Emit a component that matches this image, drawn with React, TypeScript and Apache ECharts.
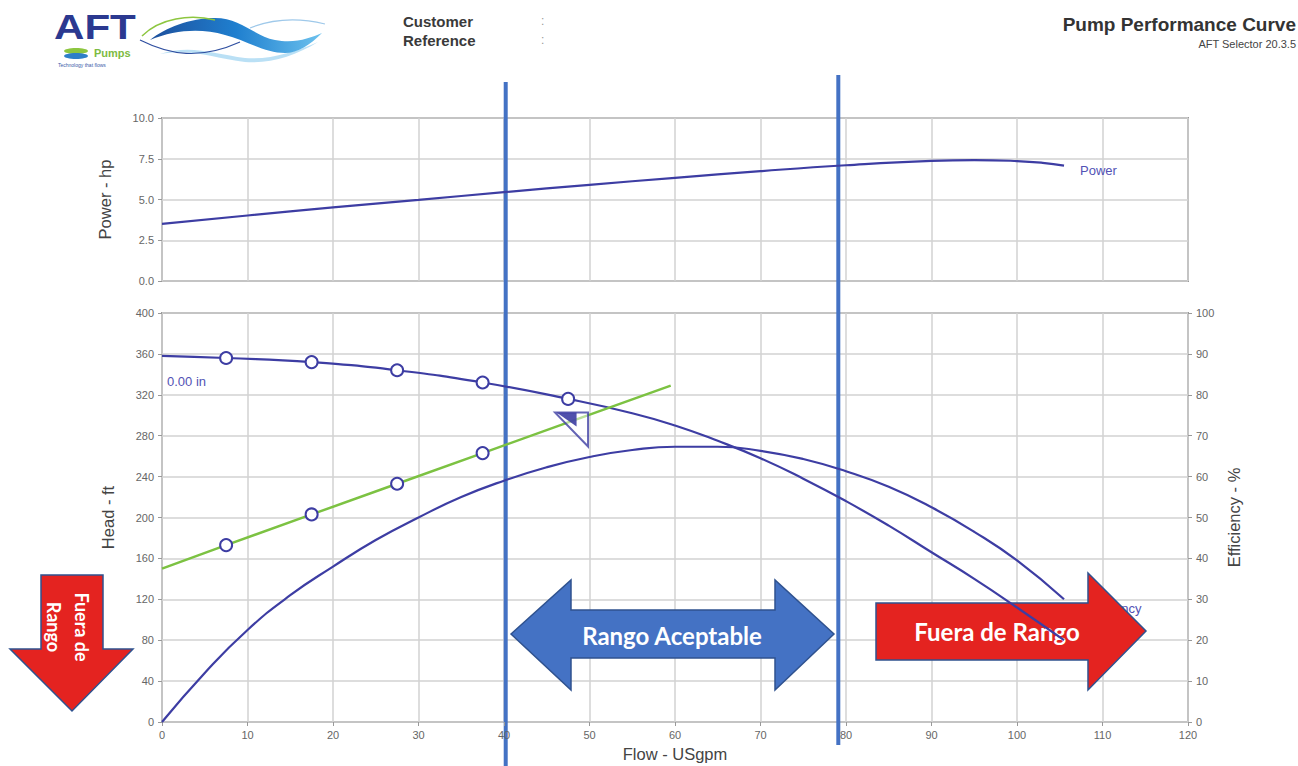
import React, { useEffect, useRef } from "react";
import * as echarts from "echarts";

// ---- data ----
const flowTicks = [0, 10, 20, 30, 40, 50, 60, 70, 80, 90, 100, 110, 120];

const powerFlow = [0, 10, 20, 30, 40, 50, 60, 70, 80, 90, 95, 100, 103, 105.5];
const powerHp = [3.5, 4.02, 4.52, 4.98, 5.45, 5.9, 6.33, 6.74, 7.1, 7.37, 7.42, 7.36, 7.25, 7.08];

const headFlow = [0, 7.5, 17.5, 27.5, 37.5, 47.5, 55, 60, 65, 70, 75, 80, 85, 90, 95, 100, 105.5];
const headFt = [358, 356, 352, 344, 332, 316, 302, 290, 275, 258, 238, 216, 192, 166, 140, 112, 80];

const headMarkFlow = [7.5, 17.5, 27.5, 37.5, 47.5];
const headMarkFt = [356, 352, 344, 332, 316];

const effFlow = [0, 5, 10, 15, 20, 25, 30, 35, 40, 45, 50, 55, 60, 65, 70, 75, 80, 85, 90, 95, 100, 105.5];
const effPct = [0, 12, 22.5, 31, 38, 44.5, 50, 55, 59, 62.3, 64.8, 66.5, 67.3, 67.3, 66.3, 64.3, 61.3, 57.5, 52.5, 46.5, 39.5, 30];

const sysFlow = [0, 7.5, 17.5, 27.5, 37.5, 47.5, 59.5];
const sysFt = [150, 173, 203, 233, 263, 293, 329];
const sysMarkFlow = [7.5, 17.5, 27.5, 37.5];
const sysMarkFt = [173, 203, 233, 263];

const dutyPoint = [47.9, 286];

const rangeLines = [40.2, 79.1];

const zip = (a: number[], b: number[]) => a.map((v, i) => [v, b[i]]);

const CURVE = "#3d3da3";
const GREEN = "#7cc242";
const ABLUE = "#4472c4";
const AEDGE = "#2f528f";
const RED = "#e42320";
const TICKF = "Liberation Sans, Arial, sans-serif";

let registered = false;
function registerShapes() {
  if (registered) return;
  registered = true;
  echarts.graphic.registerShape(
    "swooshBand",
    echarts.graphic.extendPath(
      "M150,40 C165,28 190,18 215,18 C240,18 255,36 275,40 C295,44 310,38 322,33 C310,45 298,53 285,53 C265,53 245,40 225,35 C200,28 175,30 150,40 Z",
      {}
    )
  );
  echarts.graphic.registerShape(
    "swooshLow",
    echarts.graphic.extendPath(
      "M160,54 C190,44 215,54 245,58 C270,60 295,52 318,42 C295,56 270,64 245,62 C215,58 190,48 160,54 Z",
      {}
    )
  );
}

export default function App() {
  const ref = useRef<HTMLDivElement>(null);

  useEffect(() => {
    if (!ref.current) return;
    registerShapes();
    const chart = echarts.init(ref.current, undefined, { renderer: "svg" });

    const axisLabel = { color: "#666", fontSize: 11, fontFamily: TICKF };
    const split = { show: true, lineStyle: { color: "#d2d2d2", width: 1.5 } };
    const tick = { show: true, length: 4, lineStyle: { color: "#999" } };
    const nameStyle = { color: "#444", fontSize: 16.5, fontFamily: TICKF };

    const option: any = {
      animation: false,
      backgroundColor: "#ffffff",
      grid: [
        { left: 162, top: 118, width: 1026, height: 163, show: true, borderColor: "#9a9a9a", borderWidth: 2, outerBoundsMode: "none", containLabel: false },
        { left: 162, top: 313, width: 1026, height: 409, show: true, borderColor: "#9a9a9a", borderWidth: 2, outerBoundsMode: "none", containLabel: false },
      ],
      xAxis: [
        {
          type: "value", gridIndex: 0, min: 0, max: 120, interval: 10,
          axisLine: { show: false }, axisTick: { show: false }, axisLabel: { show: false }, splitLine: split,
        },
        {
          type: "value", gridIndex: 1, min: 0, max: 120, interval: 10,
          axisLine: { show: false }, axisTick: tick, axisLabel: { ...axisLabel, margin: 7 }, splitLine: split,
          name: "Flow - USgpm", nameLocation: "middle", nameGap: 23, nameTextStyle: { ...nameStyle, fontSize: 16.5 },
        },
      ],
      yAxis: [
        {
          type: "value", gridIndex: 0, min: 0, max: 10, interval: 2.5,
          axisLine: { show: false }, axisTick: tick,
          axisLabel: { ...axisLabel, formatter: (v: number) => v.toFixed(1) }, splitLine: split,
          name: "Power - hp", nameLocation: "middle", nameGap: 49, nameTextStyle: nameStyle,
        },
        {
          type: "value", gridIndex: 1, min: 0, max: 400, interval: 40,
          axisLine: { show: false }, axisTick: tick, axisLabel: axisLabel, splitLine: split,
          name: "Head - ft", nameLocation: "middle", nameGap: 46, nameTextStyle: nameStyle,
        },
        {
          type: "value", gridIndex: 1, min: 0, max: 100, interval: 10, position: "right",
          axisLine: { show: false }, axisTick: tick, axisLabel: axisLabel, splitLine: { show: false },
          name: "Efficiency - %", nameLocation: "middle", nameGap: 32, nameTextStyle: nameStyle,
        },
      ],
      series: [
        {
          type: "line", xAxisIndex: 0, yAxisIndex: 0, data: zip(powerFlow, powerHp), smooth: true,
          showSymbol: false, lineStyle: { color: CURVE, width: 2.2 },
          endLabel: { show: true, formatter: "Power", color: "#5252b5", fontSize: 13, fontFamily: TICKF, offset: [8, 5] },
        },
        {
          type: "line", xAxisIndex: 1, yAxisIndex: 1, data: zip(headFlow, headFt), smooth: true,
          showSymbol: false, lineStyle: { color: CURVE, width: 2.2 },
        },
        {
          type: "line", xAxisIndex: 1, yAxisIndex: 2, data: zip(effFlow, effPct), smooth: true,
          showSymbol: false, lineStyle: { color: CURVE, width: 2.2 },
        },
        {
          type: "line", xAxisIndex: 1, yAxisIndex: 1, data: zip(sysFlow, sysFt),
          showSymbol: false, lineStyle: { color: GREEN, width: 2.5 },
        },
        {
          type: "scatter", xAxisIndex: 1, yAxisIndex: 1,
          data: zip(headMarkFlow, headMarkFt).concat(zip(sysMarkFlow, sysMarkFt)),
          symbol: "emptyCircle", symbolSize: 12,
          itemStyle: { color: CURVE, borderColor: CURVE, borderWidth: 2, opacity: 1 },
          z: 5,
        },
        {
          type: "scatter", xAxisIndex: 1, yAxisIndex: 1, data: [dutyPoint],
          symbol: "path://M0,0 L33,0 L33,34 Z", symbolSize: [33, 34],
          itemStyle: { color: "rgba(255,255,255,0.6)", borderColor: CURVE, borderWidth: 2 },
          z: 6,
        },
        {
          type: "scatter", xAxisIndex: 1, yAxisIndex: 1, data: [dutyPoint],
          symbol: "path://M0,0 L20,0 L20,14 Z", symbolSize: [20, 14], symbolOffset: [-5, -10],
          itemStyle: { color: CURVE, opacity: 0.9 },
          z: 7,
        },
      ],
    };
    chart.setOption(option);

    const xPix = rangeLines.map((v) => chart.convertToPixel({ xAxisIndex: 1 }, v) as number);

    const logoGrad = new echarts.graphic.LinearGradient(0, 0, 1, 0, [
      { offset: 0, color: "#1d4f9c" },
      { offset: 0.5, color: "#1f7fcf" },
      { offset: 1, color: "#6cc2ee" },
    ]);

    const graphics: any[] = [
      // logo
      { type: "swooshLow", x: 0, y: 0, style: { fill: "#a9d8f2", opacity: 0.8 } },
      { type: "swooshBand", x: 0, y: 0, style: { fill: logoGrad } },
      { type: "bezierCurve", shape: { x1: 142, y1: 36, cpx1: 160, cpy1: 18, cpx2: 190, cpy2: 14, x2: 215, y2: 20 }, style: { stroke: "#8dc63f", lineWidth: 1.5, fill: null } },
      { type: "bezierCurve", shape: { x1: 140, y1: 40, cpx1: 170, cpy1: 55, cpx2: 200, cpy2: 60, x2: 240, y2: 42 }, style: { stroke: "#2f4fa0", lineWidth: 1.2, fill: null } },
      { type: "bezierCurve", shape: { x1: 250, y1: 28, cpx1: 275, cpy1: 18, cpx2: 300, cpy2: 18, x2: 325, y2: 24 }, style: { stroke: "#9fc9ea", lineWidth: 1.2, fill: null } },
      { type: "text", x: 54, y: 27, scaleX: 1.17, style: { text: "AFT", fill: "#2b3990", font: "bold 36px Liberation Sans, Arial, sans-serif", textVerticalAlign: "middle", verticalAlign: "middle" } },
      { type: "ellipse", shape: { cx: 76, cy: 51, rx: 12, ry: 3 }, style: { fill: "#8dc63f" } },
      { type: "ellipse", shape: { cx: 76, cy: 56, rx: 12, ry: 3 }, style: { fill: "#2e7fc8" } },
      { type: "text", x: 94, y: 47.5, style: { text: "Pumps", fill: "#7dbb42", font: "bold 11px Liberation Sans, Arial, sans-serif" } },
      { type: "text", x: 58, y: 62, style: { text: "Technology that flows", fill: "#3a5aa8", font: "5px Liberation Sans, Arial, sans-serif" } },

      // header
      { type: "text", x: 403, y: 14, style: { text: "Customer", fill: "#3a3a3a", font: "bold 15px Liberation Sans, Arial, sans-serif" } },
      { type: "text", x: 403, y: 33, style: { text: "Reference", fill: "#3a3a3a", font: "bold 15px Liberation Sans, Arial, sans-serif" } },
      { type: "text", x: 541, y: 15, style: { text: ":", fill: "#999", font: "12px Liberation Sans, Arial, sans-serif" } },
      { type: "text", x: 541, y: 34, style: { text: ":", fill: "#999", font: "12px Liberation Sans, Arial, sans-serif" } },
      { type: "text", x: 1296, y: 15, style: { text: "Pump Performance Curve", fill: "#333", font: "bold 19px Liberation Sans, Arial, sans-serif", textAlign: "right", align: "right" } },
      { type: "text", x: 1296, y: 38, style: { text: "AFT Selector 20.3.5", fill: "#444", font: "11px Liberation Sans, Arial, sans-serif", textAlign: "right", align: "right" } },

      // curve labels
      { type: "text", x: 167, y: 375, style: { text: "0.00 in", fill: "#5252b5", font: "13px Liberation Sans, Arial, sans-serif" } },
      { type: "text", x: 1086, y: 602, style: { text: "Efficiency", fill: "#5252b5", font: "13px Liberation Sans, Arial, sans-serif" } },

      // range lines
      { type: "line", shape: { x1: xPix[0], y1: 82, x2: xPix[0], y2: 766 }, style: { stroke: ABLUE, lineWidth: 4 } },
      { type: "line", shape: { x1: xPix[1], y1: 75, x2: xPix[1], y2: 745 }, style: { stroke: ABLUE, lineWidth: 4 } },

      // acceptable range double arrow
      {
        type: "polygon",
        shape: { points: [[511, 634], [571, 580], [571, 610], [775, 610], [775, 580], [834, 634], [775, 690], [775, 658], [571, 658], [571, 690]] },
        style: { fill: ABLUE, stroke: AEDGE, lineWidth: 1.5 },
      },
      { type: "text", x: 672, y: 635, style: { text: "Rango Aceptable", fill: "#fff", font: "bold 24px Lato, Open Sans, sans-serif", textAlign: "center", align: "center", textVerticalAlign: "middle", verticalAlign: "middle" } },

      // right out-of-range arrow
      {
        type: "polygon",
        shape: { points: [[876, 603], [1088, 603], [1088, 573], [1146, 631], [1088, 690], [1088, 660], [876, 660]] },
        style: { fill: RED, stroke: AEDGE, lineWidth: 1.5 },
      },
      { type: "text", x: 997, y: 631, style: { text: "Fuera de Rango", fill: "#fff", font: "bold 24px Lato, Open Sans, sans-serif", textAlign: "center", align: "center", textVerticalAlign: "middle", verticalAlign: "middle" } },

      // left out-of-range down arrow
      {
        type: "polygon",
        shape: { points: [[41, 575], [103, 575], [103, 649], [133, 649], [72, 711], [10, 649], [41, 649]] },
        style: { fill: RED, stroke: AEDGE, lineWidth: 1.5 },
      },
      { type: "text", x: 82, y: 627, rotation: -Math.PI / 2, style: { text: "Fuera de", fill: "#fff", font: "bold 18px Lato, Open Sans, sans-serif", textAlign: "center", align: "center", textVerticalAlign: "middle", verticalAlign: "middle" } },
      { type: "text", x: 54, y: 627, rotation: -Math.PI / 2, style: { text: "Rango", fill: "#fff", font: "bold 18px Lato, Open Sans, sans-serif", textAlign: "center", align: "center", textVerticalAlign: "middle", verticalAlign: "middle" } },
    ];

    chart.setOption({ graphic: { elements: graphics } });

    return () => chart.dispose();
  }, []);

  return (
    <div
      ref={ref}
      style={{ position: "absolute", left: 0, top: 0, width: 1298, height: 766, background: "#fff" }}
    />
  );
}
